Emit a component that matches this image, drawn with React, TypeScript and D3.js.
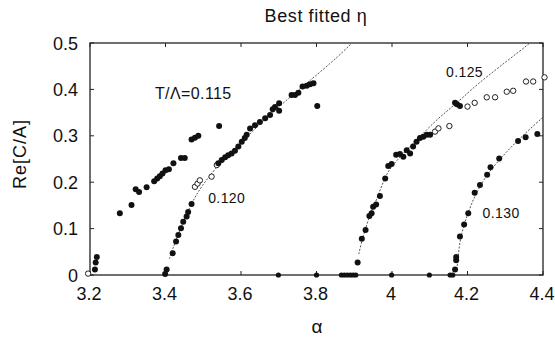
import React from "react";
import * as d3 from "d3";

// ---------- data ----------
const xTicks = [3.2, 3.4, 3.6, 3.8, 4.0, 4.2, 4.4];
const xTickLabels = ["3.2", "3.4", "3.6", "3.8", "4", "4.2", "4.4"];
const yTicks = [0, 0.1, 0.2, 0.3, 0.4, 0.5];
const yTickLabels = ["0", "0.1", "0.2", "0.3", "0.4", "0.5"];

// T/Λ = 0.115 (filled)
const s115: [number, number][] = [
  [3.213, 0.012], [3.215, 0.027], [3.218, 0.039], [3.279, 0.133], [3.31, 0.151],
  [3.321, 0.185], [3.33, 0.179], [3.35, 0.189], [3.37, 0.202], [3.378, 0.208],
  [3.385, 0.213], [3.392, 0.219], [3.4, 0.226], [3.409, 0.228], [3.421, 0.241],
  [3.441, 0.252], [3.451, 0.252], [3.469, 0.292], [3.478, 0.296], [3.487, 0.3],
  [3.542, 0.321],
];
const s115Open: [number, number][] = [[3.195, 0.003]];

// T/Λ = 0.120
const s120: [number, number][] = [
  [3.399, 0.002], [3.403, 0.012], [3.419, 0.047], [3.428, 0.072], [3.434, 0.086],
  [3.441, 0.101], [3.447, 0.115], [3.456, 0.126], [3.46, 0.136], [3.469, 0.153],
  [3.54, 0.241], [3.549, 0.248], [3.558, 0.254], [3.566, 0.258], [3.575, 0.262],
  [3.584, 0.268], [3.593, 0.277], [3.602, 0.287], [3.61, 0.295], [3.615, 0.302],
  [3.624, 0.316], [3.637, 0.323], [3.65, 0.33], [3.664, 0.338], [3.677, 0.345],
  [3.684, 0.357], [3.69, 0.362], [3.701, 0.37], [3.701, 0.354], [3.734, 0.388],
  [3.743, 0.388], [3.752, 0.393], [3.763, 0.406], [3.774, 0.408], [3.783, 0.411],
  [3.792, 0.413], [3.802, 0.364],
];
const s120Open: [number, number][] = [
  [3.478, 0.19], [3.485, 0.197], [3.491, 0.204], [3.522, 0.212], [3.536, 0.237],
];
const fit120: [number, number][] = [
  [3.41, 0.035], [3.42, 0.058], [3.44, 0.1], [3.47, 0.155], [3.5, 0.195],
  [3.55, 0.245], [3.6, 0.285], [3.65, 0.325], [3.7, 0.362], [3.75, 0.397],
  [3.8, 0.431], [3.85, 0.466], [3.89, 0.497],
];

// T/Λ = 0.125
const s125: [number, number][] = [
  [3.909, 0.027], [3.92, 0.078], [3.93, 0.097], [3.94, 0.127], [3.946, 0.133],
  [3.95, 0.147], [3.958, 0.152], [3.968, 0.17], [3.982, 0.208], [3.99, 0.235],
  [3.999, 0.239], [4.011, 0.259], [4.021, 0.261], [4.03, 0.255], [4.039, 0.269],
  [4.048, 0.262], [4.056, 0.277], [4.065, 0.287], [4.074, 0.295], [4.083, 0.298],
  [4.092, 0.302], [4.101, 0.302], [4.167, 0.371], [4.172, 0.368], [4.18, 0.364],
];
const s125Open: [number, number][] = [
  [4.114, 0.309], [4.123, 0.316], [4.152, 0.321], [4.2, 0.363], [4.219, 0.371],
  [4.251, 0.383], [4.273, 0.383], [4.304, 0.395], [4.321, 0.397], [4.355, 0.417],
  [4.374, 0.417], [4.404, 0.426],
];
const fit125: [number, number][] = [
  [3.912, 0.045], [3.92, 0.072], [3.94, 0.125], [3.96, 0.165], [3.99, 0.222],
  [4.03, 0.262], [4.07, 0.295], [4.12, 0.335], [4.17, 0.37], [4.23, 0.413],
  [4.29, 0.452], [4.35, 0.49], [4.365, 0.5],
];

// T/Λ = 0.130
const s130: [number, number][] = [
  [4.167, 0.012], [4.17, 0.032], [4.17, 0.039], [4.18, 0.083], [4.191, 0.109],
  [4.202, 0.133], [4.219, 0.177], [4.233, 0.194], [4.252, 0.216], [4.261, 0.232],
  [4.284, 0.251], [4.334, 0.289], [4.354, 0.297], [4.385, 0.304],
];
const fit130: [number, number][] = [
  [4.172, 0.012], [4.18, 0.07], [4.19, 0.105], [4.2, 0.13], [4.22, 0.17],
  [4.25, 0.213], [4.3, 0.262], [4.35, 0.303], [4.4, 0.34],
];

// points lying at Re = 0
const zeroAlphas = [
  3.699, 3.8, 3.866, 3.874, 3.882, 3.89, 3.897, 3.904, 3.999, 4.099, 4.154, 4.161,
];

const annotations = [
  { text: "T/Λ=0.115", a: 3.372, v: 0.379, size: 16 },
  { text: "0.120", a: 3.513, v: 0.155, size: 14 },
  { text: "0.125", a: 4.143, v: 0.426, size: 14 },
  { text: "0.130", a: 4.24, v: 0.123, size: 14 },
];

// ---------- layout ----------
const W = 555;
const H = 337;
const L = 90, R = 543, T = 43, B = 275;
const FONT = "'Liberation Sans', Arial, Helvetica, sans-serif";

export default function App() {
  const x = d3.scaleLinear().domain([3.2, 4.4]).range([L, R]);
  const y = d3.scaleLinear().domain([0, 0.5]).range([B, T]);
  const line = d3
    .line<[number, number]>()
    .x((d) => x(d[0]))
    .y((d) => y(d[1]))
    .curve(d3.curveCatmullRom);

  const filled = [...s115, ...s120, ...s125, ...s130];
  const open = [...s115Open, ...s120Open, ...s125Open];
  const fits = [fit120, fit125, fit130];
  const tickLen = 4;

  return (
    <svg
      width={W}
      height={H}
      style={{ position: "absolute", left: 0, top: 0, background: "#fff" }}
      fontFamily={FONT}
    >
      <rect x={0} y={0} width={W} height={H} fill="#fff" />
      {/* title */}
      <text x={316} y={22} textAnchor="middle" fontSize={18} fill="#111" letterSpacing={0.6}>
        Best fitted η
      </text>

      {/* fit curves */}
      {fits.map((f, i) => (
        <path
          key={i}
          d={line(f) || ""}
          fill="none"
          stroke="#555"
          strokeWidth={1}
          strokeDasharray="2,1.5"
        />
      ))}

      {/* frame */}
      <rect x={L} y={T} width={R - L} height={B - T} fill="none" stroke="#222" strokeWidth={1.3} />

      {/* ticks */}
      {xTicks.map((t, i) => (
        <g key={"xt" + i}>
          <line x1={x(t)} x2={x(t)} y1={B} y2={B - tickLen} stroke="#222" />
          <line x1={x(t)} x2={x(t)} y1={T} y2={T + tickLen} stroke="#222" />
          <text x={x(t) - 1} y={300} textAnchor="middle" fontSize={18} fill="#111">
            {xTickLabels[i]}
          </text>
        </g>
      ))}
      {yTicks.map((t, i) => (
        <g key={"yt" + i}>
          <line x1={L} x2={L + tickLen} y1={y(t)} y2={y(t)} stroke="#222" />
          <line x1={R} x2={R - tickLen} y1={y(t)} y2={y(t)} stroke="#222" />
          <text x={78} y={y(t) + 6.5} textAnchor="end" fontSize={18} fill="#111">
            {yTickLabels[i]}
          </text>
        </g>
      ))}

      {/* zero points */}
      {zeroAlphas.map((a, i) => (
        <circle key={"z" + i} cx={x(a)} cy={y(0)} r={2.6} fill="#111" />
      ))}

      {/* open markers */}
      {open.map((d, i) => (
        <circle key={"o" + i} cx={x(d[0])} cy={y(d[1])} r={2.7} fill="#fff" stroke="#222" strokeWidth={1} />
      ))}

      {/* filled markers */}
      {filled.map((d, i) => (
        <circle key={"f" + i} cx={x(d[0])} cy={y(d[1])} r={3} fill="#111" />
      ))}

      {/* annotations */}
      {annotations.map((an, i) => (
        <text key={"an" + i} x={x(an.a)} y={y(an.v)} fontSize={an.size} fill="#111" letterSpacing={0.4}>
          {an.text}
        </text>
      ))}

      {/* axis labels */}
      <text
        transform={`translate(26,154) rotate(-90)`}
        textAnchor="middle"
        fontSize={18}
        fill="#111"
        letterSpacing={1}
      >
        Re[C/A]
      </text>
      <text x={317} y={333} textAnchor="middle" fontSize={19} fill="#111">
        α
      </text>
    </svg>
  );
}
